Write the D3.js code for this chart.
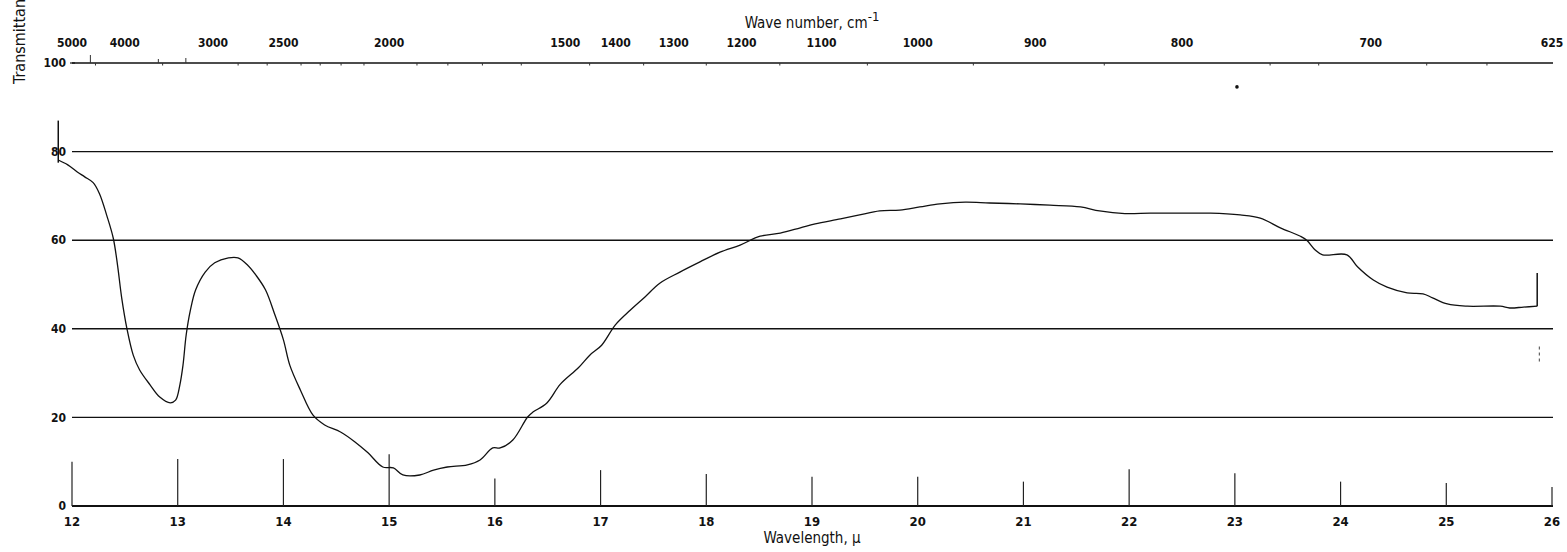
<!DOCTYPE html>
<html>
<head>
<meta charset="utf-8">
<script src="https://cdn.jsdelivr.net/npm/d3@7"></script>
<style>
  html, body { margin: 0; padding: 0; background: #fff; }
  svg { display: block; }
  text { font-family: "DejaVu Sans Condensed", "Liberation Sans Narrow", sans-serif; fill: #111; }
</style>
</head>
<body>
<svg id="chart" width="1567" height="552"></svg>
<script>
// ---- data ----
const wavelength = [11.87,11.96,12.05,12.12,12.2,12.26,12.33,12.39,12.43,12.47,12.52,12.58,12.64,12.74,12.83,12.93,12.98,13.02,13.05,13.08,13.12,13.17,13.26,13.35,13.48,13.57,13.66,13.74,13.83,13.92,14.0,14.06,14.16,14.28,14.39,14.54,14.68,14.8,14.94,15.04,15.13,15.29,15.42,15.55,15.74,15.86,15.98,16.05,16.17,16.31,16.36,16.49,16.62,16.79,16.9,17.01,17.14,17.28,17.42,17.56,17.75,17.94,18.13,18.32,18.51,18.7,18.89,19.03,19.27,19.45,19.64,19.83,20.02,20.21,20.45,20.68,20.97,21.25,21.54,21.72,21.96,22.2,22.48,22.77,23.05,23.24,23.43,23.62,23.68,23.76,23.83,24.06,24.16,24.31,24.44,24.63,24.78,24.87,25.01,25.2,25.51,25.6,25.73,25.86];
const transmittance = [78.1,77.0,75.4,74.3,73.0,70.5,65.5,60.5,54.5,47,40,34,30.7,27.3,24.6,23.3,23.9,27.3,31.8,38.6,44.2,48.8,52.8,54.9,56,56,54.4,52.1,48.8,43.1,37.5,31.8,26.2,20.5,18.3,16.7,14.4,12,8.8,8.6,7.0,7.0,8.1,8.8,9.3,10.4,13.1,13.1,14.9,20.1,21.2,23.2,27.5,31.2,34.1,36.3,40.9,44.2,47.2,50.3,52.8,55.1,57.3,58.9,60.9,61.6,62.8,63.7,64.8,65.7,66.6,66.8,67.5,68.2,68.6,68.4,68.2,67.9,67.5,66.6,66.0,66.1,66.1,66.1,65.7,65.0,62.8,60.9,60,57.8,56.7,56.7,54,51,49.4,48.1,47.9,47,45.6,45.1,45.1,44.7,44.9,45.1];

const wavelengthTicks = [12,13,14,15,16,17,18,19,20,21,22,23,24,25,26];
const wavelengthTickHeights = [10,10.6,10.6,11.7,6.2,8.1,7.2,6.6,6.6,5.5,8.3,7.4,5.5,5.2,4.3];
const transmittanceTicks = [0,20,40,60,80,100];
const waveNumberTicks = [5000,4000,3000,2500,2000,1500,1400,1300,1200,1100,1000,900,800,700,625];
const waveNumberMinor = [4500,3500,2800,2600,2400,2300,2200,2100,1900,1800,1700,1600,1450,1350,1250,1150,1050,950,850,750,725,675,650];
const waveNumberUpTicks = [4600, 3550, 3250];
const waveNumberUpTickLengths = [8, 4, 5];

// stray pen marks seen on the chart: [wavelength, T from, T to]
const penMarks = [[11.87, 87, 77.5], [25.86, 45.1, 52.6], [25.88, 36, 32.5]];
const penDots = [[23.02, 94.6]];

// ---- layout ----
const svg = d3.select("#chart");
const x = d3.scaleLinear().domain([12, 26]).range([72, 1552]);
const xTop = d3.scaleLinear().domain([2, 16]).range([72, 1552]); // wavelength of top scale, µm
const y = d3.scaleLinear().domain([0, 100]).range([506, 63]);

// horizontal grid lines
svg.append("g").selectAll("line").data(transmittanceTicks).join("line")
  .attr("x1", x(12)).attr("x2", x(26) + 1)
  .attr("y1", d => y(d)).attr("y2", d => y(d))
  .attr("stroke", "#111").attr("stroke-width", d => d === 0 ? 1.8 : 1.4);

// y labels
svg.append("g").selectAll("text").data(transmittanceTicks).join("text")
  .attr("x", 66).attr("y", d => y(d)).attr("dy", "0.35em")
  .attr("text-anchor", "end").attr("font-size", 12).attr("font-weight", "bold")
  .text(d => d);

// short dash before the 100 line
svg.append("line").attr("x1", 70).attr("x2", 75).attr("y1", y(100)).attr("y2", y(100))
  .attr("stroke", "#111").attr("stroke-width", 1.2);

// y axis title
svg.append("text")
  .attr("transform", `translate(25, 84) rotate(-90)`)
  .attr("text-anchor", "start").attr("font-size", 16)
  .text("Transmittance, percent");

// bottom axis: vertical tick marks
svg.append("g").selectAll("line").data(wavelengthTicks).join("line")
  .attr("x1", d => x(d)).attr("x2", d => x(d))
  .attr("y1", y(0)).attr("y2", (d, i) => y(wavelengthTickHeights[i]))
  .attr("stroke", "#222").attr("stroke-width", 1.2);

svg.append("g").selectAll("text").data(wavelengthTicks).join("text")
  .attr("x", d => x(d)).attr("y", 526)
  .attr("text-anchor", "middle").attr("font-size", 13).attr("font-weight", "bold")
  .text(d => d);

svg.append("text").attr("x", x(19)).attr("y", 543).attr("text-anchor", "middle")
  .attr("font-size", 15).text("Wavelength, \u03bc");

// top axis (wave number)
svg.append("g").selectAll("text").data(waveNumberTicks).join("text")
  .attr("x", d => xTop(10000 / d)).attr("y", 47)
  .attr("text-anchor", "middle").attr("font-size", 12).attr("font-weight", "bold")
  .text(d => d);

svg.append("g").selectAll("line").data(waveNumberMinor).join("line")
  .attr("x1", d => xTop(10000 / d)).attr("x2", d => xTop(10000 / d))
  .attr("y1", y(100)).attr("y2", y(100) + 2.5)
  .attr("stroke", "#333").attr("stroke-width", 1);

svg.append("g").selectAll("line").data(waveNumberUpTicks).join("line")
  .attr("x1", d => xTop(10000 / d)).attr("x2", d => xTop(10000 / d))
  .attr("y1", y(100)).attr("y2", (d, i) => y(100) - waveNumberUpTickLengths[i])
  .attr("stroke", "#333").attr("stroke-width", 1);

const topTitle = svg.append("text").attr("x", x(19)).attr("y", 28)
  .attr("text-anchor", "middle").attr("font-size", 15);
topTitle.append("tspan").text("Wave number, cm");
topTitle.append("tspan").attr("dy", -7).attr("font-size", 13).text("-1");

// curve
const pts = wavelength.map((w, i) => [w, transmittance[i]]);
svg.append("path").datum(pts)
  .attr("fill", "none").attr("stroke", "#111").attr("stroke-width", 1.3)
  .attr("stroke-linejoin", "round")
  .attr("d", d3.line().x(d => x(d[0])).y(d => y(d[1])).curve(d3.curveCatmullRom.alpha(0.5)));

// pen marks
svg.append("g").selectAll("line").data(penMarks).join("line")
  .attr("x1", d => x(d[0])).attr("x2", d => x(d[0]))
  .attr("y1", d => y(d[1])).attr("y2", d => y(d[2]))
  .attr("stroke", "#111").attr("stroke-width", (d, i) => i === 2 ? 0.8 : 1.5)
  .attr("stroke-dasharray", (d, i) => i === 2 ? "3,3" : null);
svg.append("g").selectAll("circle").data(penDots).join("circle")
  .attr("cx", d => x(d[0])).attr("cy", d => y(d[1])).attr("r", 1.8).attr("fill", "#111");
</script>
</body>
</html>
